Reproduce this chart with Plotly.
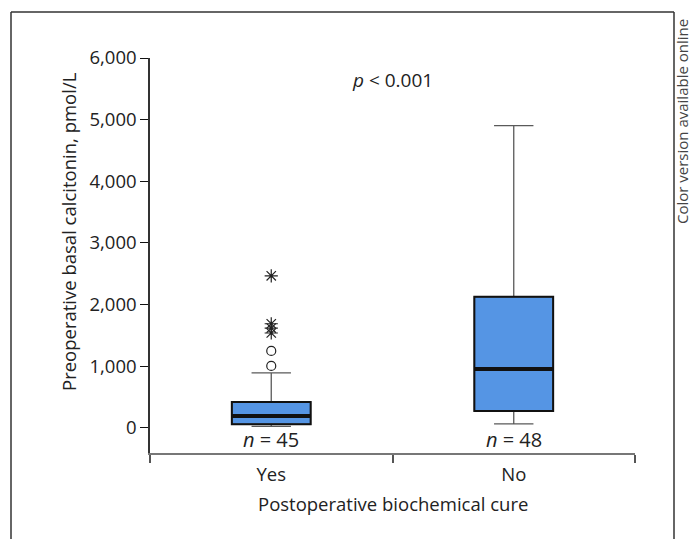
import plotly.graph_objects as go

# ---- data ----
groups = ["Yes", "No"]
q1 = [60, 276]
median = [195, 958]
q3 = [420, 2127]
lower_fence = [25, 65]
upper_fence = [893, 4903]
n_labels = ["<i>n</i> = 45", "<i>n</i> = 48"]
outliers_circle = [1006, 1250]          # group "Yes"
outliers_extreme = [1540, 1620, 1690, 2467]  # group "Yes"
p_text = "<i>p</i> < 0.001"

FONT = "Open Sans"
BLUE = "#5595E4"
FS = 18.5

# pixel helpers for plot area (l=150, r=56, t=58, b=86)
W, H = 691, 539
L, R, T, B = 150, 56, 58, 86
PW, PH = W - L - R, H - T - B
def px(x):
    return (x - L) / PW
def py(y):
    return (H - B - y) / PH

fig = go.Figure()

# whiskers + filled box (grey thin line)
fig.add_trace(go.Box(
    x=groups, q1=q1, median=median, q3=q3,
    lowerfence=lower_fence, upperfence=upper_fence,
    boxpoints=False, width=0.325, whiskerwidth=0.5,
    fillcolor=BLUE, line=dict(color="#5a5a5a", width=1.3),
    hoverinfo="skip", showlegend=False))
# black box outline
fig.add_trace(go.Box(
    x=groups, q1=q1, median=median, q3=q3,
    lowerfence=q1, upperfence=q3,
    boxpoints=False, width=0.325, whiskerwidth=0,
    fillcolor="rgba(0,0,0,0)", line=dict(color="#111111", width=2),
    hoverinfo="skip", showlegend=False))
# thick median
fig.add_trace(go.Box(
    x=groups, q1=median, median=median, q3=median,
    lowerfence=median, upperfence=median,
    boxpoints=False, width=0.325, whiskerwidth=0,
    fillcolor="rgba(0,0,0,0)", line=dict(color="#111111", width=4),
    hoverinfo="skip", showlegend=False))

# outliers
fig.add_trace(go.Scatter(
    x=["Yes"] * len(outliers_circle), y=outliers_circle, mode="markers",
    marker=dict(symbol="circle-open", size=9, color="#222222", line=dict(width=1.2)),
    showlegend=False, hoverinfo="skip"))
fig.add_trace(go.Scatter(
    x=["Yes"] * len(outliers_extreme), y=outliers_extreme, mode="markers",
    marker=dict(symbol="asterisk-open", size=11, color="#222222", line=dict(width=1.2, color="#222222")),
    showlegend=False, hoverinfo="skip"))

annotations = []
for g, t in zip(groups, n_labels):
    annotations.append(dict(x=g, y=-180, xref="x", yref="y", text=t, showarrow=False,
                            font=dict(family=FONT, size=20, color="#222"), yanchor="middle"))
annotations.append(dict(x=0.5, y=5640, xref="paper", yref="y", text=p_text, showarrow=False,
                        font=dict(family=FONT, size=19, color="#222"), yanchor="middle"))
annotations.append(dict(x=px(68), y=py(232), xref="paper", yref="paper",
                        text="Preoperative basal calcitonin, pmol/L", textangle=-90,
                        showarrow=False, font=dict(family=FONT, size=FS, color="#222"),
                        xanchor="center", yanchor="middle"))
annotations.append(dict(x=0.5, y=py(503), xref="paper", yref="paper",
                        text="Postoperative biochemical cure", showarrow=False,
                        font=dict(family=FONT, size=FS, color="#222"),
                        xanchor="center", yanchor="middle"))
annotations.append(dict(x=px(682), y=py(122), xref="paper", yref="paper",
                        text="Color version available online", textangle=-90,
                        showarrow=False, font=dict(family=FONT, size=15, color="#444"),
                        xanchor="center", yanchor="middle"))

frame_col = "#333333"
shapes = [
    dict(type="line", xref="paper", yref="paper", x0=px(11), x1=px(11), y0=py(12), y1=py(545),
         line=dict(color=frame_col, width=1.5)),
    dict(type="line", xref="paper", yref="paper", x0=px(11), x1=px(674), y0=py(12), y1=py(12),
         line=dict(color=frame_col, width=1.5)),
    dict(type="line", xref="paper", yref="paper", x0=px(674), x1=px(674), y0=py(12), y1=py(545),
         line=dict(color=frame_col, width=1.5)),
]

fig.update_layout(
    width=W, height=H, margin=dict(l=L, r=R, t=T, b=B),
    paper_bgcolor="white", plot_bgcolor="white",
    boxmode="overlay", showlegend=False,
    font=dict(family=FONT, size=FS, color="#222"),
    annotations=annotations, shapes=shapes,
)
fig.update_xaxes(
    type="category", categoryorder="array", categoryarray=groups,
    range=[-0.5, 1.5], tickson="boundaries", ticks="outside", ticklen=8,
    tickcolor="#555", tickwidth=1.5, showline=True, linecolor="#777", linewidth=1.5,
    showgrid=False, zeroline=False, ticklabelstandoff=4,
    tickfont=dict(family=FONT, size=FS, color="#222"),
)
fig.update_yaxes(
    range=[-406, 6000], tickvals=[0, 1000, 2000, 3000, 4000, 5000, 6000],
    tickformat=",", ticks="outside", ticklen=8, tickcolor="#111", tickwidth=1.2,
    showline=True, linecolor="#333", linewidth=1.5, showgrid=False, zeroline=False,
    tickfont=dict(family=FONT, size=FS, color="#222"),
)

fig.write_html("out.html", config={"displayModeBar": False},
               post_script="document.body.style.margin='0';")
